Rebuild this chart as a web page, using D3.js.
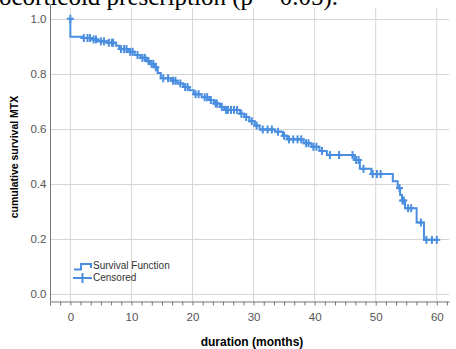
<!DOCTYPE html>
<html><head><meta charset="utf-8">
<script src="https://cdn.jsdelivr.net/npm/d3@7"></script>
<style>html,body{margin:0;padding:0;background:#fff;overflow:hidden}</style>
</head><body>
<svg id="c" width="456" height="349"></svg>
<script>
// ---- data ----
const eventTimes = [0, 2.0, 3.5, 4.5, 6.0, 7.5, 8.0, 9.5, 10.5, 11.5, 12.5, 13.0, 13.8, 14.3, 14.8, 16.5, 17.5, 18.5, 19.5, 20.2, 21.5, 22.8, 23.5, 24.5, 25.2, 27.8, 28.5, 29.3, 30.2, 31.0, 33.5, 34.8, 35.5, 38.2, 39.5, 40.8, 42.0, 46.5, 47.4, 49.3, 52.8, 53.6, 54.0, 54.3, 54.8, 56.7, 57.9];
const survival   = [0.935, 0.930, 0.925, 0.918, 0.913, 0.902, 0.890, 0.880, 0.868, 0.858, 0.846, 0.836, 0.824, 0.803, 0.784, 0.775, 0.765, 0.752, 0.740, 0.726, 0.715, 0.705, 0.692, 0.680, 0.669, 0.655, 0.643, 0.628, 0.612, 0.598, 0.590, 0.575, 0.562, 0.548, 0.535, 0.520, 0.505, 0.487, 0.455, 0.436, 0.410, 0.385, 0.360, 0.340, 0.312, 0.260, 0.197];
const censoredTimes = [0, 2.2, 2.8, 3.2, 3.8, 4.2, 5.0, 5.5, 6.3, 6.8, 7.0, 8.3, 8.8, 9.2, 9.8, 10.2, 11.0, 11.8, 12.2, 12.8, 13.3, 13.6, 14.0, 15.2, 16.0, 16.8, 17.2, 18.0, 18.8, 19.2, 20.5, 21.0, 22.0, 22.4, 23.0, 23.8, 24.0, 24.8, 25.5, 25.8, 26.3, 26.8, 27.3, 28.0, 28.8, 29.7, 30.5, 31.5, 32.3, 33.0, 34.0, 35.0, 35.8, 36.5, 37.2, 37.8, 38.6, 39.0, 39.8, 40.3, 41.2, 42.5, 44.0, 46.2, 46.8, 47.2, 48.0, 49.5, 50.2, 50.8, 53.9, 54.4, 54.6, 55.3, 55.8, 57.4, 58.3, 59.2, 60.0];
const endTime = 60.2;
const xTickLabels = [0, 10, 20, 30, 40, 50, 60];
const yTickLabels = [0.0, 0.2, 0.4, 0.6, 0.8, 1.0];
const titleText = "glucocorticoid prescription (p = 0.05).";
const xTitle = "duration (months)";
const yTitle = "cumulative survival MTX";
const legendLabels = ["Survival Function", "Censored"];

// ---- chart ----
const blue = "#4a8ee0";
const svg = d3.select("#c");
const x = d3.scaleLinear().domain([-10/3, 62]).range([50, 449]);
const y = d3.scaleLinear().domain([-0.025, 1.05]).range([301, 5]);

svg.append("text").attr("x", 338).attr("y", 5).attr("text-anchor", "end")
  .attr("font-family", "Liberation Serif, Times New Roman, serif").attr("font-size", 25)
  .attr("fill", "#000").text(titleText);

// grid
svg.append("g").selectAll("line").data(xTickLabels).join("line")
  .attr("x1", d => x(d)).attr("x2", d => x(d)).attr("y1", 8).attr("y2", 301)
  .attr("stroke", "#d6d6d6").attr("stroke-width", 1);
svg.append("g").selectAll("line").data(yTickLabels).join("line")
  .attr("x1", 50).attr("x2", 449).attr("y1", d => Math.round(y(d)) + 0.5).attr("y2", d => Math.round(y(d)) + 0.5)
  .attr("stroke", "#d6d6d6").attr("stroke-width", 1);

// axes
const minorTicks = d3.range(-10/3, 62, 10/6);
const xAxis = d3.axisBottom(x).tickValues(minorTicks).tickSize(4).tickSizeOuter(0)
  .tickFormat(d => { const r = Math.round(d); return (Math.abs(d - r) < 1e-6 && r % 10 === 0 && r >= 0) ? r : ""; });
const gx = svg.append("g").attr("transform", "translate(0,301.5)").call(xAxis);
gx.select(".domain").attr("stroke", "#777");
gx.selectAll(".tick line").attr("stroke", "#777");
gx.selectAll("text").attr("font-family", "Liberation Sans, Arial, sans-serif").attr("font-size", 11.5)
  .attr("fill", "#555").attr("dy", "1.1em");

const yAxis = d3.axisLeft(y).tickValues(yTickLabels).tickSize(0).tickPadding(4).tickFormat(d3.format(".1f"));
const gy = svg.append("g").attr("transform", "translate(50.5,0)").call(yAxis);
gy.select(".domain").attr("stroke", "#777").attr("d", "M0,5V301");
gy.selectAll("text").attr("font-family", "Liberation Sans, Arial, sans-serif").attr("font-size", 11.5).attr("fill", "#555");

// titles
svg.append("text").attr("x", 252).attr("y", 346).attr("text-anchor", "middle")
  .attr("font-family", "Liberation Sans, Arial, sans-serif").attr("font-size", 12).attr("font-weight", "bold").text(xTitle);
svg.append("text").attr("transform", "translate(18,157) rotate(-90)").attr("text-anchor", "middle")
  .attr("font-family", "Liberation Sans, Arial, sans-serif").attr("font-size", 10.5).attr("font-weight", "bold").text(yTitle);

// survival step curve
const pts = [{t: 0, s: 1}];
eventTimes.forEach((t, i) => pts.push({t: t, s: survival[i]}));
pts.push({t: endTime, s: survival[survival.length - 1]});
const line = d3.line().x(d => x(d.t)).y(d => y(d.s)).curve(d3.curveStepAfter);
svg.append("path").datum(pts).attr("d", line).attr("fill", "none").attr("stroke", blue).attr("stroke-width", 2);

// censored marks
function S(t) { let s = 1; eventTimes.forEach((e, i) => { if (e < t) s = survival[i]; }); return s; }
const cm = svg.append("g").attr("stroke", blue).attr("stroke-width", 2);
censoredTimes.forEach(t => {
  const cx = x(t), cy = y(S(t));
  cm.append("line").attr("x1", cx).attr("x2", cx).attr("y1", cy - 4).attr("y2", cy + 4);
  cm.append("line").attr("x1", cx - 3.5).attr("x2", cx + 3.5).attr("y1", cy).attr("y2", cy);
});

// legend
const lg = svg.append("g");
lg.append("path").attr("d", "M74,269.5H81V264H91V268").attr("fill", "none").attr("stroke", blue).attr("stroke-width", 2);
lg.append("line").attr("x1", 73).attr("x2", 92).attr("y1", 278).attr("y2", 278).attr("stroke", blue).attr("stroke-width", 2);
lg.append("line").attr("x1", 82.5).attr("x2", 82.5).attr("y1", 273).attr("y2", 283).attr("stroke", blue).attr("stroke-width", 2);
lg.selectAll("text").data(legendLabels).join("text")
  .attr("x", 93).attr("y", (d, i) => 269 + i * 12)
  .attr("font-family", "Liberation Sans, Arial, sans-serif").attr("font-size", 10).attr("fill", "#333").text(d => d);
</script>
</body></html>
